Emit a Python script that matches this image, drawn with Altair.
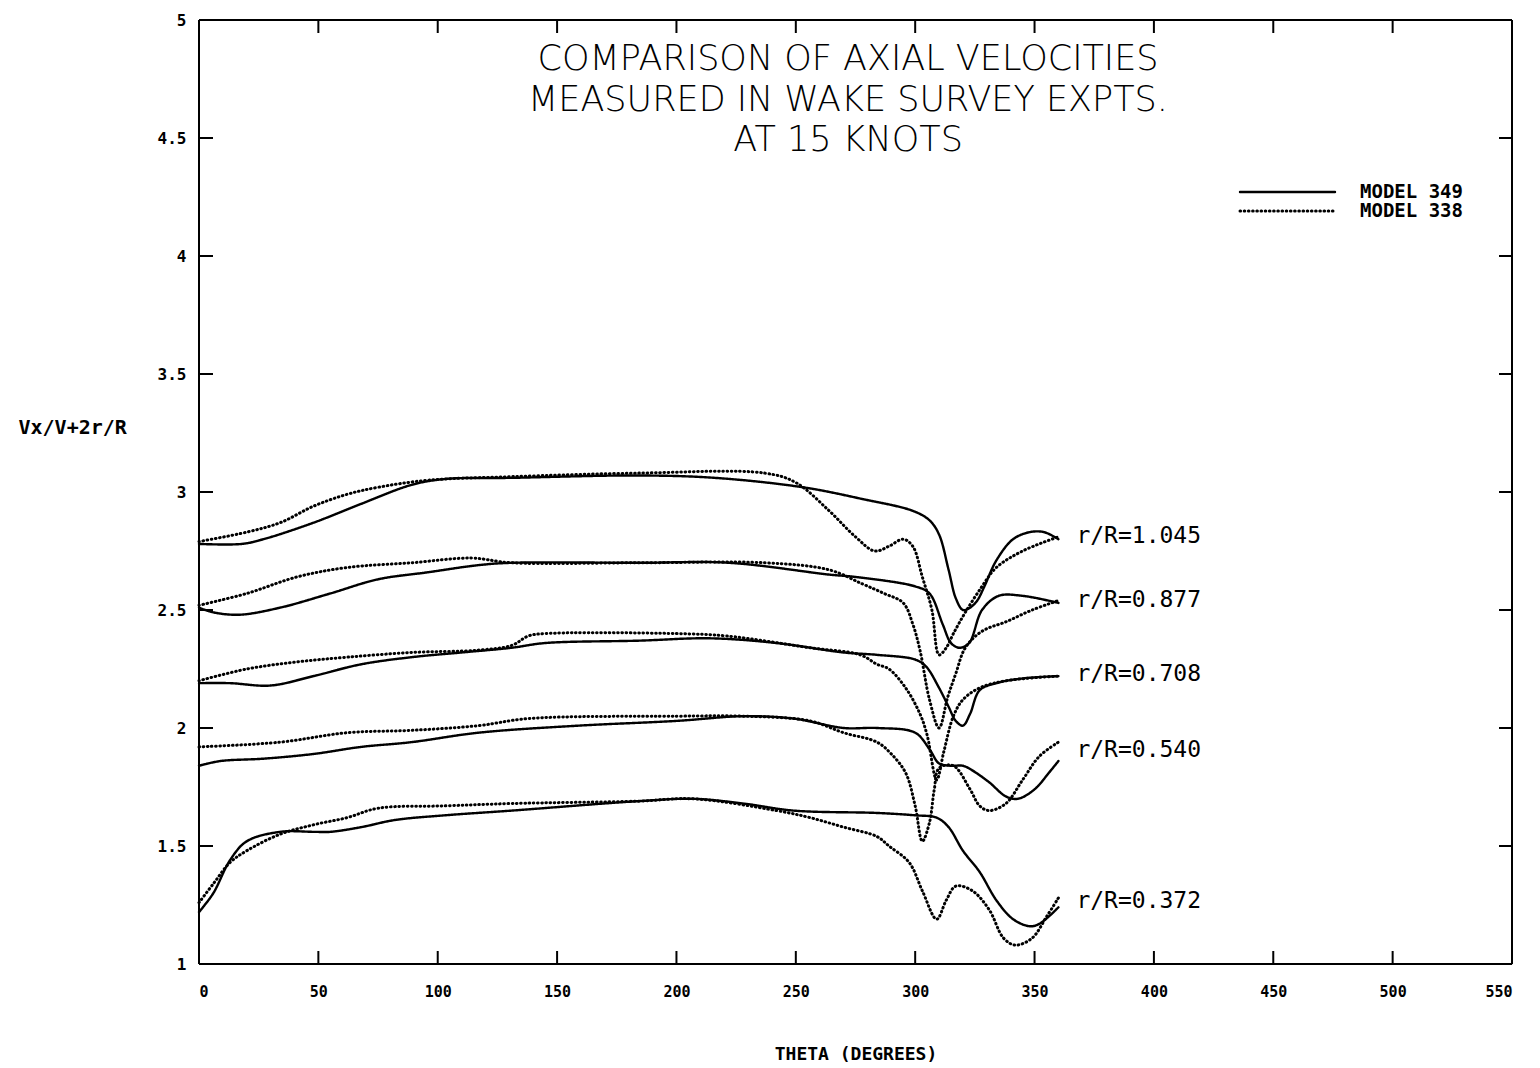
import altair as alt
import pandas as pd

# ---------------- data ----------------
models = ["MODEL 349", "MODEL 338"]
radii = ["1.045", "0.877", "0.708", "0.540", "0.372"]

# r/R = 1.045
a349_t = [0, 18, 27, 48, 68, 89, 103, 131, 184, 216, 253, 278, 299, 306, 310, 314, 317, 320, 323, 326, 329, 334, 341, 348, 354, 360]
a349_v = [2.78, 2.78, 2.80, 2.87, 2.95, 3.03, 3.055, 3.06, 3.07, 3.06, 3.02, 2.97, 2.92, 2.88, 2.82, 2.67, 2.55, 2.50, 2.51, 2.54, 2.60, 2.71, 2.80, 2.83, 2.83, 2.80]
a338_t = [0, 20, 34, 48, 62, 75, 96, 131, 184, 237, 250, 264, 275, 283, 289, 295, 299, 303, 307, 310, 313, 316, 321, 328, 334, 345, 360]
a338_v = [2.79, 2.83, 2.87, 2.94, 2.99, 3.02, 3.05, 3.065, 3.08, 3.08, 3.04, 2.92, 2.81, 2.75, 2.77, 2.80, 2.77, 2.64, 2.50, 2.31, 2.34, 2.40, 2.49, 2.60, 2.68, 2.75, 2.81]

# r/R = 0.877
b349_t = [0, 6, 17, 34, 55, 75, 96, 117, 131, 184, 222, 264, 275, 300, 306, 311.5, 315, 318.5, 322.6, 328, 335, 345, 360]
b349_v = [2.51, 2.49, 2.48, 2.51, 2.57, 2.63, 2.66, 2.69, 2.70, 2.70, 2.70, 2.65, 2.64, 2.60, 2.57, 2.44, 2.36, 2.34, 2.36, 2.50, 2.56, 2.56, 2.53]
b338_t = [0, 20, 41, 62, 89, 114, 131, 184, 237, 264, 278, 287, 295, 299, 302, 306, 310, 313.6, 317, 321, 328, 338, 349, 360]
b338_v = [2.52, 2.57, 2.64, 2.68, 2.70, 2.72, 2.70, 2.70, 2.70, 2.67, 2.61, 2.57, 2.53, 2.44, 2.33, 2.12, 2.00, 2.13, 2.23, 2.34, 2.41, 2.45, 2.50, 2.54]

# r/R = 0.708
c349_t = [0, 13, 30, 48, 68, 89, 110, 131, 145, 184, 214, 242, 270, 284, 300, 304.6, 310, 314, 317, 320, 323, 327, 334, 345, 360]
c349_v = [2.19, 2.19, 2.18, 2.22, 2.27, 2.30, 2.32, 2.34, 2.36, 2.37, 2.38, 2.36, 2.32, 2.31, 2.29, 2.26, 2.17, 2.09, 2.03, 2.01, 2.06, 2.16, 2.19, 2.21, 2.22]
c338_t = [0, 20, 41, 62, 89, 117, 131, 138, 145, 200, 221, 256, 277, 284, 289, 296, 302, 305, 309, 312, 316, 320, 327, 338, 360]
c338_v = [2.20, 2.25, 2.28, 2.30, 2.32, 2.33, 2.35, 2.39, 2.40, 2.40, 2.39, 2.34, 2.31, 2.27, 2.25, 2.17, 2.06, 1.97, 1.78, 1.90, 2.05, 2.12, 2.17, 2.20, 2.22]

# r/R = 0.540
d349_t = [0, 9, 27, 48, 68, 89, 117, 159, 200, 228, 249, 270, 284, 300, 306, 310, 315, 320, 324, 331, 338, 343, 350, 356, 360]
d349_v = [1.84, 1.86, 1.87, 1.89, 1.92, 1.94, 1.98, 2.01, 2.03, 2.05, 2.04, 2.00, 2.00, 1.98, 1.91, 1.85, 1.84, 1.84, 1.82, 1.77, 1.71, 1.70, 1.74, 1.81, 1.86]
d338_t = [0, 34, 62, 89, 117, 138, 200, 228, 256, 270, 284, 290, 296, 300, 303, 306, 308, 310, 316, 323, 327, 331, 338, 345, 352, 360]
d338_v = [1.92, 1.94, 1.98, 1.99, 2.01, 2.04, 2.05, 2.05, 2.03, 1.98, 1.94, 1.89, 1.81, 1.67, 1.52, 1.60, 1.74, 1.83, 1.84, 1.74, 1.67, 1.65, 1.68, 1.78, 1.88, 1.94]

# r/R = 0.372
e349_t = [0, 6, 13, 20, 34, 48, 55, 68, 82, 103, 131, 184, 207, 228, 249, 284, 300, 309, 314, 320, 327, 334, 341, 348, 352, 360]
e349_v = [1.22, 1.30, 1.44, 1.52, 1.56, 1.56, 1.56, 1.58, 1.61, 1.63, 1.65, 1.69, 1.70, 1.68, 1.65, 1.64, 1.63, 1.62, 1.58, 1.48, 1.39, 1.27, 1.19, 1.16, 1.17, 1.24]
e338_t = [0, 6, 13, 20, 34, 48, 62, 75, 103, 131, 184, 207, 242, 256, 270, 284, 289, 297.5, 303, 309, 313, 317, 324, 331, 337, 342, 349, 355, 360]
e338_v = [1.26, 1.34, 1.43, 1.48, 1.55, 1.59, 1.62, 1.66, 1.67, 1.68, 1.69, 1.70, 1.65, 1.62, 1.58, 1.54, 1.50, 1.43, 1.31, 1.19, 1.27, 1.33, 1.31, 1.23, 1.11, 1.08, 1.11, 1.20, 1.28]

x_ticks = [0, 50, 100, 150, 200, 250, 300, 350, 400, 450, 500, 550]
y_ticks = [1, 1.5, 2, 2.5, 3, 3.5, 4, 4.5, 5]
title_lines = ["COMPARISON OF AXIAL VELOCITIES", "MEASURED IN WAKE SURVEY EXPTS.", "AT 15 KNOTS"]

# ---------------- build table ----------------
series = {
    "1.045": ((a349_t, a349_v), (a338_t, a338_v)),
    "0.877": ((b349_t, b349_v), (b338_t, b338_v)),
    "0.708": ((c349_t, c349_v), (c338_t, c338_v)),
    "0.540": ((d349_t, d349_v), (d338_t, d338_v)),
    "0.372": ((e349_t, e349_v), (e338_t, e338_v)),
}
rows = []
label_rows = []
for r in radii:
    ends = []
    for m, (ts, vs) in zip(models, series[r]):
        for t, v in zip(ts, vs):
            rows.append({"curve": r + m, "model": m, "theta": t, "v": v})
        ends.append((ts[-1], vs[-1]))
    label_rows.append({"label": "r/R=" + r,
                       "theta": max(e[0] for e in ends),
                       "v": sum(e[1] for e in ends) / len(ends)})
df = pd.DataFrame(rows)
df_lab = pd.DataFrame(label_rows)
df_xt = pd.DataFrame({"t": x_ticks})
df_yt = pd.DataFrame({"y": y_ticks})
df_models = pd.DataFrame({"model": models})
df_one = df_models.head(1)

W, H = 1313, 944
MONO = "DejaVu Sans Mono"
DASH_SOLID = [1, 0]
DASH_DOT = [0.6, 3.6]

xscale = alt.Scale(domain=[0, 550], nice=False, zero=False)
yscale = alt.Scale(domain=[1, 5], nice=False, zero=False)
dash_scale = alt.Scale(domain=models, range=[DASH_SOLID, DASH_DOT])
width_scale = alt.Scale(domain=models, range=[2.4, 3.0])

lines = alt.Chart(df).mark_line(strokeCap="round", interpolate="catmull-rom", color="black").encode(
    x=alt.X("theta:Q", scale=xscale,
            axis=alt.Axis(values=x_ticks, title="THETA (DEGREES)", grid=False, domain=False, ticks=False,
                          labelFont=MONO, labelFontSize=15, labelFontWeight="bold", labelPadding=20,
                          labelColor="black", titleFont=MONO, titleFontSize=18, titleFontWeight="bold",
                          titlePadding=46, titleColor="black")),
    y=alt.Y("v:Q", scale=yscale,
            axis=alt.Axis(values=y_ticks, format=".1~f", title="Vx/V+2r/R", grid=False, domain=False, ticks=False,
                          labelFont=MONO, labelFontSize=16, labelFontWeight="bold", labelPadding=13,
                          labelColor="black", titleFont=MONO, titleFontSize=20, titleFontWeight="bold",
                          titleAngle=0, titleAlign="left", titleBaseline="middle", titleX=-181, titleY=407,
                          titleColor="black")),
    detail="curve:N",
    strokeDash=alt.StrokeDash("model:N", scale=dash_scale, legend=None),
    strokeWidth=alt.StrokeWidth("model:N", scale=width_scale, legend=None),
)

# frame
frame_h = alt.Chart(df_one).mark_rule(color="black", strokeWidth=2).encode(
    x=alt.value(0), x2=alt.value(W), y=alt.value(0))
frame_b = alt.Chart(df_one).mark_rule(color="black", strokeWidth=2).encode(
    x=alt.value(0), x2=alt.value(W), y=alt.value(H))
frame_l = alt.Chart(df_one).mark_rule(color="black", strokeWidth=2).encode(
    y=alt.value(0), y2=alt.value(H), x=alt.value(0))
frame_r = alt.Chart(df_one).mark_rule(color="black", strokeWidth=2).encode(
    y=alt.value(0), y2=alt.value(H), x=alt.value(W))

xt_bottom = alt.Chart(df_xt).mark_rule(color="black", strokeWidth=2).encode(
    x=alt.X("t:Q", scale=xscale), y=alt.value(H), y2=alt.value(H - 13))
xt_top = alt.Chart(df_xt).mark_rule(color="black", strokeWidth=2).encode(
    x=alt.X("t:Q", scale=xscale), y=alt.value(0), y2=alt.value(13))
yt_left = alt.Chart(df_yt).mark_rule(color="black", strokeWidth=2).encode(
    y=alt.Y("y:Q", scale=yscale), x=alt.value(0), x2=alt.value(14))
yt_right = alt.Chart(df_yt).mark_rule(color="black", strokeWidth=2).encode(
    y=alt.Y("y:Q", scale=yscale), x=alt.value(W), x2=alt.value(W - 13))

labels = alt.Chart(df_lab).mark_text(align="left", baseline="middle", dx=18, dy=-2, font=MONO,
                                     fontSize=23, color="black").encode(
    x=alt.X("theta:Q", scale=xscale), y=alt.Y("v:Q", scale=yscale), text="label:N")

title = alt.Chart(df_one).mark_text(
    align="center", baseline="top", font="DejaVu Sans", fontSize=35, fontWeight=300,
    lineBreak="\n", lineHeight=40.5, color="black", text="\n".join(title_lines)).encode(
    x=alt.value(649), y=alt.value(22))

# manual legend (two rows)
legend_layers = []
for k, m in enumerate(models):
    yy = 172 + 19 * k
    sub = df_models[df_models["model"] == m]
    legend_layers.append(alt.Chart(sub).mark_rule(strokeCap="round", color="black").encode(
        x=alt.value(1041), x2=alt.value(1136), y=alt.value(yy),
        strokeDash=alt.StrokeDash("model:N", scale=dash_scale, legend=None),
        strokeWidth=alt.StrokeWidth("model:N", scale=width_scale, legend=None)))
    legend_layers.append(alt.Chart(sub).mark_text(align="left", baseline="middle", font=MONO, fontSize=19,
                                                  fontWeight="bold", color="black").encode(
        x=alt.value(1161), y=alt.value(yy), text="model:N"))

chart = alt.layer(lines, frame_h, frame_b, frame_l, frame_r, xt_bottom, xt_top, yt_left, yt_right,
                  labels, title, *legend_layers).properties(
    width=W, height=H,
    autosize=alt.AutoSizeParams(type="none"),
    padding={"left": 191, "top": 12, "right": 20, "bottom": 100},
).configure_view(stroke="black", strokeWidth=2).configure(background="white")

chart.save("out.html", embed_options={"renderer": "svg", "actions": False})
